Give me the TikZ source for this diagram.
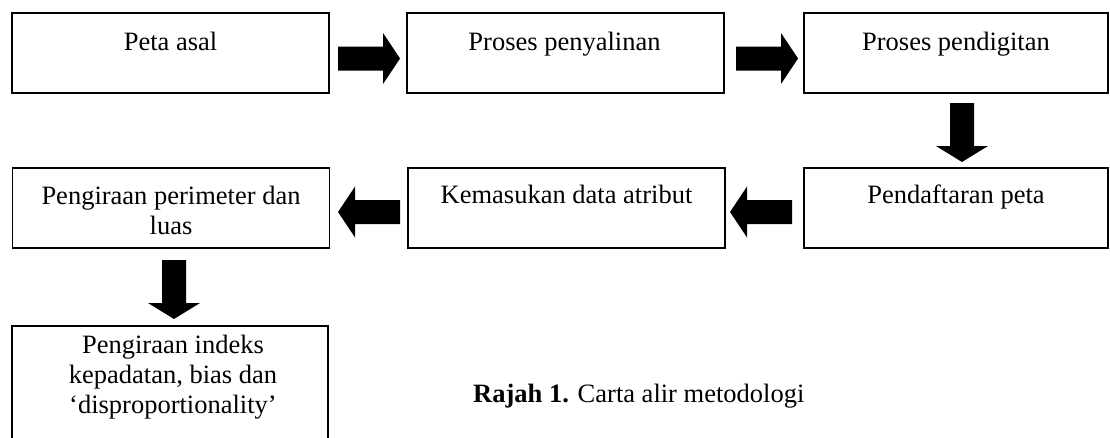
\documentclass[tikz,border=0pt]{standalone}
\usepackage{fontspec}
\setmainfont{Liberation Serif}
\usetikzlibrary{calc}
\tikzset{
  box/.style={draw=black, line width=1.4pt, rectangle, inner sep=0pt, outer sep=0pt, fill=none},
  lbl/.style={anchor=north, inner sep=0pt, align=center, font=\fontsize{26.5}{30}\selectfont},
  harrow/.pic={\fill[black] (0,-12) -- (45,-12) -- (45,-25.5) -- (62,0) -- (45,25.5) -- (45,12) -- (0,12) -- cycle;},
  varrow/.pic={\fill[black] (-12,0) -- (-12,-43) -- (-26,-43) -- (0,-59) -- (26,-43) -- (12,-43) -- (12,0) -- cycle;}
}
\begin{document}
\begin{tikzpicture}[x=1pt,y=1pt]
\useasboundingbox (0,0) rectangle (1110,-437);
\clip (0,0) rectangle (1110,-437);
% boxes
\node[box, minimum width=317, minimum height=80] (b1) at (170.5,-53) {};
\node[box, minimum width=317, minimum height=80] (b2) at (565.5,-53) {};
\node[box, minimum width=304, minimum height=80] (b3) at (956,-53) {};
\node[box, minimum width=304, minimum height=80] (b4) at (956,-208) {};
\node[box, minimum width=317, minimum height=80] (b5) at (566.5,-208) {};
\node[box, minimum width=317, minimum height=80] (b6) at (171,-208) {};
\node[box, minimum width=316, minimum height=200] (b7) at (170,-426) {};
% texts
\node[lbl] (t1) at ($(b1.north)+(0,-16.4)$) {\strut Peta asal};
\node[lbl] (t2) at ($(b2.north)+(-1,-16.4)$) {\strut Proses penyalinan};
\node[lbl] (t3) at ($(b3.north)+(0,-16.4)$) {\strut Proses pendigitan};
\node[lbl] (t4) at ($(b4.north)+(0,-14.4)$) {\strut Pendaftaran peta};
\node[lbl] (t5) at ($(b5.north)+(0,-14.4)$) {\strut Kemasukan data atribut};
\node[lbl] (t6) at ($(b6.north)+(0,-15.4)$) {\strut Pengiraan perimeter dan\\luas};
\node[lbl] (t7) at ($(b7.north)+(3,-6.4)$) {\strut Pengiraan indeks\\kepadatan, bias dan\\‘disproportionality’};
% caption
\node[anchor=base west, inner sep=0pt, font=\fontsize{26.5}{30}\selectfont] (cap) at (473,-402) {\textbf{Rajah 1.} Carta alir metodologi};
% block arrows
\pic at ($(b1.east)+(9,-5.5)$) {harrow};
\pic at ($(b2.east)+(12,-5.5)$) {harrow};
\pic at ($(b3.south)+(6,-10)$) {varrow};
\pic[rotate=180] at ($(b4.west)+(-12,-4)$) {harrow};
\pic[rotate=180] at ($(b5.west)+(-8,-4)$) {harrow};
\pic at ($(b6.south)+(3,-12)$) {varrow};
\end{tikzpicture}
\end{document}
